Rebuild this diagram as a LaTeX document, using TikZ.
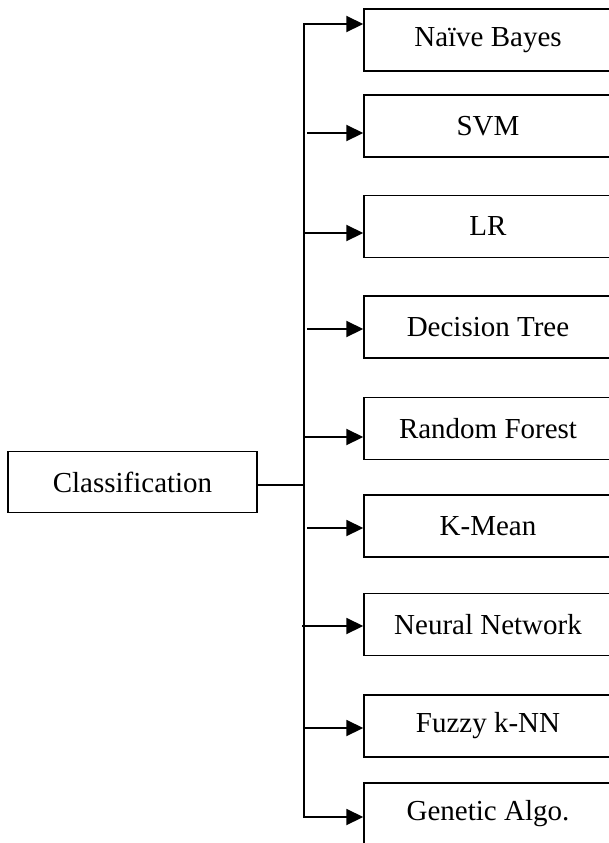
\documentclass[tikz,border=0pt]{standalone}
\usepackage{fontspec}
\setmainfont{Liberation Serif}
\usetikzlibrary{arrows.meta}

\begin{document}
\begin{tikzpicture}[x=0.02cm,y=-0.02cm,
	box/.style={draw, line width=0.85pt, minimum width=4.96cm, minimum height=1.24cm, inner sep=0pt, font=\fontsize{16.5}{20}\selectfont},
	arr/.style={line width=1.1pt, >={Triangle[length=0.34cm,width=0.32cm]}, ->}]
\clip (0,0) rectangle (609,843);
\node[box, minimum width=4.98cm, minimum height=1.22cm] (cls) at (132.5,482) {Classification};
\foreach \name/\txt/\yc in {nb/Naïve Bayes/40, svm/SVM/126, lr/LR/226.5, dt/Decision Tree/327, rf/Random Forest/428.5, km/K-Mean/526, nn/Neural Network/624.5, fk/Fuzzy k-NN/726, ga/Genetic Algo./814}{
	\node[box] (\name) at (488,\yc) {\txt};
	}
% trunk, with the first and last arrow
\coordinate (ttop) at (304,24);
\coordinate (tbot) at (304,817);
\coordinate (tmid) at (304,485);
\draw[arr, <->] (ttop -| nb.west) -- (ttop) -- (tbot) -- (tbot -| ga.west);
\draw[line width=1.1pt] (cls.east |- tmid) -- (tmid);
\foreach \name/\xa/\ya in {svm/307/133, lr/304/233, dt/307/329, rf/304/437, km/307/528, nn/302/626, fk/304/728}{
	\coordinate (t\name) at (\xa,\ya);
	\draw[arr] (t\name) -- (t\name -| \name.west);
	}
\end{tikzpicture}
\end{document}
